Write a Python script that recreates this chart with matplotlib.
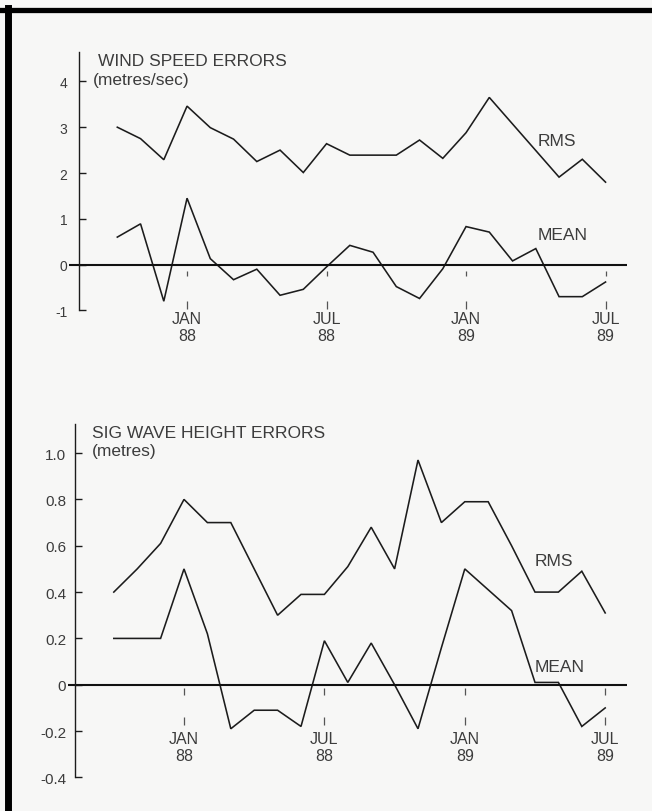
import matplotlib.pyplot as plt
from matplotlib.lines import Line2D

plt.rcParams["font.family"] = ["Liberation Sans", "DejaVu Sans"]

# monthly values, Oct 1987 .. Jul 1989
months = ["OCT 87", "NOV 87", "DEC 87", "JAN 88", "FEB 88", "MAR 88", "APR 88",
          "MAY 88", "JUN 88", "JUL 88", "AUG 88", "SEP 88", "OCT 88", "NOV 88",
          "DEC 88", "JAN 89", "FEB 89", "MAR 89", "APR 89", "MAY 89", "JUN 89",
          "JUL 89"]

wind_rms = [3.00, 2.75, 2.29, 3.46, 2.99, 2.74, 2.25, 2.50, 2.01, 2.64, 2.39,
            2.39, 2.39, 2.72, 2.32, 2.88, 3.65, 3.07, 2.49, 1.91, 2.30, 1.80]
wind_mean = [0.60, 0.89, -0.80, 1.45, 0.13, -0.33, -0.10, -0.67, -0.54, -0.05,
             0.42, 0.27, -0.48, -0.74, -0.09, 0.83, 0.71, 0.08, 0.35, -0.70,
             -0.70, -0.38]

wave_rms = [0.40, 0.50, 0.61, 0.80, 0.70, 0.70, 0.50, 0.30, 0.39, 0.39, 0.51,
            0.68, 0.50, 0.97, 0.70, 0.79, 0.79, 0.60, 0.40, 0.40, 0.49, 0.31]
wave_mean = [0.20, 0.20, 0.20, 0.50, 0.22, -0.19, -0.11, -0.11, -0.18, 0.19,
             0.01, 0.18, 0.00, -0.19, 0.16, 0.50, 0.41, 0.32, 0.01, 0.01,
             -0.18, -0.10]

wind_ticks = [-1, 0, 1, 2, 3, 4]
wind_ticklabels = ["-1", "0", "1", "2", "3", "4"]
wave_ticks = [-0.4, -0.2, 0, 0.2, 0.4, 0.6, 0.8, 1.0]
wave_ticklabels = ["-0.4", "-0.2", "0", "0.2", "0.4", "0.6", "0.8", "1.0"]

labelled = [3, 9, 15, 21]   # JAN 88, JUL 88, JAN 89, JUL 89

W, H = 652, 812
BG = "#f7f7f6"
INK = "#1c1c1c"
TXT = "#3c3c3c"

fig = plt.figure(figsize=(W / 100, H / 100), dpi=100, facecolor=BG)


def px_axes(left, top, right, bottom):
    return fig.add_axes([left / W, 1 - bottom / H, (right - left) / W,
                         (bottom - top) / H])


def panel(ax, x, rms, mean, ticks, ticklabels, tsize, tpad, spine_x, top,
          zero_x, tick_segs, lab_y):
    ax.set_facecolor("none")
    for s in ["top", "right", "bottom"]:
        ax.spines[s].set_visible(False)
    ax.spines["left"].set_position(("data", spine_x))
    ax.spines["left"].set_bounds(ticks[0], top)
    ax.spines["left"].set_color(INK)
    ax.spines["left"].set_linewidth(1.0)
    ax.set_xticks([])
    ax.set_yticks(ticks)
    ax.set_yticklabels(ticklabels)
    ax.tick_params(axis="y", direction="in", length=5, width=1.0, pad=tpad,
                   colors=INK, labelcolor=TXT, labelsize=tsize)

    ax.plot(x, rms, color=INK, lw=1.15, solid_joinstyle="miter")
    ax.plot(x, mean, color=INK, lw=1.15, solid_joinstyle="miter")
    ax.hlines(0, zero_x[0], zero_x[1], color="#111111", lw=1.5)

    for i in labelled:
        for a, b in tick_segs:
            ax.vlines(i, a, b, color="#555555", lw=0.9)
        mon, yr = months[i].split()
        ax.text(i, lab_y, mon + "\n" + yr, ha="center", va="top",
                fontsize=11.5, color=TXT, linespacing=1.15)


x = list(range(len(months)))

# wind speed panel
ax1 = px_axes(36, 40, 640, 340)
ax1.set_xlim((36 - 117.3) / 23.25, (640 - 117.3) / 23.25)
ax1.set_ylim((265.6 - 340) / 45.8, (265.6 - 40) / 45.8)
panel(ax1, x, wind_rms, wind_mean, wind_ticks, wind_ticklabels, 10, 8,
      (78.5 - 117.3) / 23.25, 4.64, ((69 - 117.3) / 23.25, (627 - 117.3) / 23.25),
      [(-0.13, -0.25), (-0.79, -0.96)], -1.02)

# wave height panel
ax2 = px_axes(36, 410, 640, 800)
ax2.set_xlim((36 - 113.8) / 23.4, (640 - 113.8) / 23.4)
ax2.set_ylim((685.75 - 800) / 231.67, (685.75 - 410) / 231.67)
panel(ax2, x, wave_rms, wave_mean, wave_ticks, wave_ticklabels, 11, 6,
      (74.5 - 113.8) / 23.4, 1.125, ((68 - 113.8) / 23.4, (627 - 113.8) / 23.4),
      [(-0.015, -0.045), (-0.14, -0.175)], -0.2)


def ftext(px, py, s, size=12.5):
    fig.text(px / W, 1 - py / H, s, ha="left", va="baseline", fontsize=size,
             color=TXT)


ftext(98, 66, "WIND SPEED ERRORS")
ftext(93, 85, "(metres/sec)")
ftext(538, 146, "RMS")
ftext(538, 240, "MEAN")

ftext(92, 438, "SIG WAVE HEIGHT ERRORS")
ftext(92, 456, "(metres)")
ftext(535, 566, "RMS")
ftext(535, 672, "MEAN")

# frame edges
fig.add_artist(Line2D([0, 1], [1 - 10.5 / H, 1 - 10.5 / H], color="black",
                      lw=3.8, transform=fig.transFigure))
fig.add_artist(Line2D([7.5 / W, 7.5 / W], [0, 1 - 9 / H], color="black",
                      lw=5.0, transform=fig.transFigure))

fig.savefig("out.png", dpi=100, facecolor=BG)
